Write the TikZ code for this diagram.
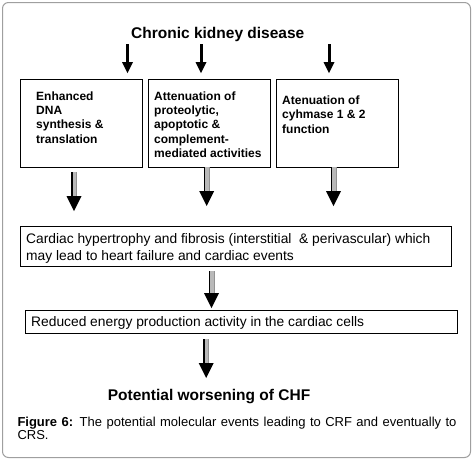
\documentclass[tikz,border=0pt]{standalone}
\usepackage{fontspec}
\setmainfont{Liberation Sans}
\usetikzlibrary{arrows.meta}
\begin{document}
\begin{tikzpicture}[x=1pt,y=-1pt,
  frame/.style={draw=gray!75, line width=1pt, rounded corners=6pt},
  box/.style={draw=black, line width=0.9pt, inner sep=0pt, anchor=north west},
  btext/.style={anchor=base west, inner sep=0pt, align=left, font=\fontsize{12}{14.3}\selectfont\bfseries},
  rtext/.style={anchor=base west, inner sep=0pt, align=left, font=\fontsize{13.8}{16.7}\selectfont},
  bigtext/.style={anchor=base west, inner sep=0pt, font=\fontsize{15.5}{18}\selectfont\bfseries},
  captext/.style={anchor=base west, inner sep=0pt, text width=439pt, align=justify, font=\fontsize{13}{13.3}\selectfont},
  solidarrow/.style={draw=black, line width=3pt, -{Triangle[length=11pt,width=11pt,line width=0pt]}},
  dblarrow/.style={draw=gray!55, line width=6pt, -{Triangle[length=15pt,width=15pt,line width=0pt,color=black]},
    postaction={draw=black, line width=1.5pt, -, shorten >=15pt, transform canvas={xshift=-2.25pt}},
    postaction={draw=gray!85, line width=1pt, -, shorten >=15pt, transform canvas={xshift=2.5pt}}}
]
\useasboundingbox (0,0) rectangle (475,461);
\draw[frame] (2.5,2.5) rectangle (470.5,457.5);

\node[bigtext] (t) at (131,38.3) {Chronic kidney disease};

\node[box, minimum width=122.8pt, minimum height=87.4pt] (b1) at (19.5,79.3) {};
\node[box, minimum width=122.5pt, minimum height=87.4pt] (b2) at (147.5,79.3) {};
\node[box, minimum width=122pt, minimum height=87.4pt] (b3) at (275.5,79.3) {};
\node[box, minimum width=431pt, minimum height=39.7pt] (b4) at (19.5,226.3) {};
\node[box, minimum width=432pt, minimum height=23.8pt] (b5) at (24.5,309.5) {};

% multi-line align nodes: base anchor is the baseline of the last line
\node[btext] (tx1) at (36,143) {Enhanced\\DNA\\synthesis \&\\translation};
\node[btext] (tx2) at (154,157.3) {Attenuation of\\proteolytic,\\apoptotic \&\\complement-\\mediated activities};
\node[btext] (tx3) at (282,133) {Atenuation of\\cyhmase 1 \& 2\\function};
\node[rtext] (tx4) at (26,260) {Cardiac hypertrophy and fibrosis (interstitial~ \& perivascular) which\\may lead to heart failure and cardiac events};
\node[rtext] (tx5) at (31,326) {Reduced energy production activity in the cardiac cells};
\node[bigtext] (out) at (107.7,400.7) {Potential worsening of CHF};
% text-width node: base anchor is the baseline of the first line
\node[captext] (cap) at (17.3,426) {\textbf{Figure 6:} The potential molecular events leading to CRF and eventually to CRS.};

\coordinate (a1s) at (127.5,44); \coordinate (a1e) at (127.5,73);
\coordinate (a2s) at (201,44);   \coordinate (a2e) at (201,73);
\coordinate (a3s) at (329,44);   \coordinate (a3e) at (329,73);
\draw[solidarrow] (a1s) -- (a1e);
\draw[solidarrow] (a2s) -- (a2e);
\draw[solidarrow] (a3s) -- (a3e);

\coordinate (d1s) at (74,172);  \coordinate (d1e) at (74,211);
\coordinate (d2s) at (206.7,167.1); \coordinate (d2e) at (206.7,206);
\coordinate (d3s) at (333.5,167.1); \coordinate (d3e) at (333.5,206);
\coordinate (d4s) at (211.5,271); \coordinate (d4e) at (211.5,308);
\coordinate (d5s) at (206.2,339); \coordinate (d5e) at (206.2,378);
\draw[dblarrow] (d1s) -- (d1e);
\draw[dblarrow] (d2s) -- (d2e);
\draw[dblarrow] (d3s) -- (d3e);
\draw[dblarrow] (d4s) -- (d4e);
\draw[dblarrow] (d5s) -- (d5e);
\end{tikzpicture}
\end{document}
